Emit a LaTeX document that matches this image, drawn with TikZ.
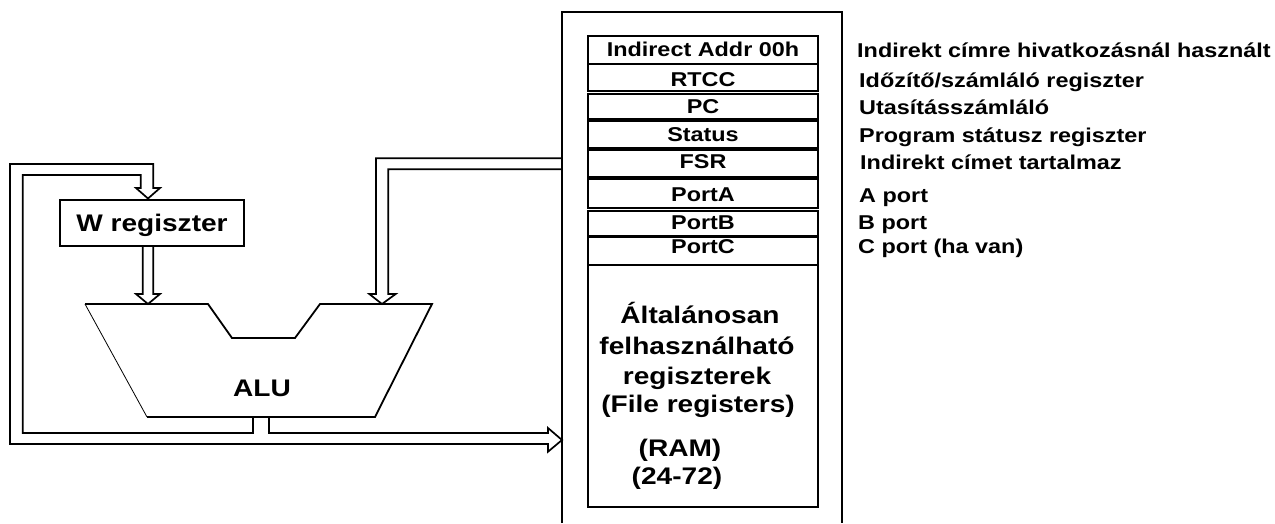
\documentclass[tikz,border=0pt]{standalone}
\usepackage{fontspec}
\setmainfont{Liberation Sans}[FakeStretch=1.17]
\begin{document}
\begin{tikzpicture}[x=1pt,y=-1pt,
  ln/.style={line width=1.8pt, line join=miter},
  bus/.style={line width=1.7pt, line join=miter},
  reg/.style={draw, line width=1.8pt, minimum width=230pt, inner sep=0pt},
  lbl/.style={anchor=base west, inner sep=0pt, font=\fontsize{20}{24}\selectfont\bfseries},
  tbl/.style={anchor=base, inner sep=0pt, font=\fontsize{20}{24}\selectfont\bfseries},
  big/.style={anchor=base, inner sep=0pt, font=\fontsize{24}{28}\selectfont\bfseries}]
\useasboundingbox (0,0) rectangle (1275,523);

% memory outline (open at bottom)
\coordinate (mbl) at (562,523);
\coordinate (mtl) at (562,12);
\coordinate (mtr) at (842,12);
\coordinate (mbr) at (842,523);
\draw[ln] (mbl) -- (mtl) -- (mtr) -- (mbr);

% register rows
\node[reg, minimum height=28pt] (r1) at (703,50) {};
\node[reg, minimum height=27pt] (r2) at (703,77.5) {};
\node[reg, minimum height=25pt] (r3) at (703,106.5) {};
\node[reg, minimum height=27pt] (r4) at (703,134.5) {};
\node[reg, minimum height=27pt] (r5) at (703,163.5) {};
\node[reg, minimum height=29pt] (r6) at (703,193.5) {};
\node[reg, minimum height=25pt] (r7) at (703,223.5) {};
\node[reg, minimum height=28pt] (r8) at (703,251) {};
\node[reg, minimum height=242pt] (ram) at (703,386) {};

\node[tbl] (t1) at (703,56) {Indirect Addr 00h};
\node[tbl] (t2) at (703,86) {RTCC};
\node[tbl] (t3) at (703,113) {PC};
\node[tbl] (t4) at (703,141.5) {Status};
\node[tbl] (t5) at (703,168) {FSR};
\node[tbl] (t6) at (703,201) {PortA};
\node[tbl] (t7) at (703,229) {PortB};
\node[tbl] (t8) at (703,253) {PortC};

\node[big] (g1) at (700,323) {Általánosan};
\node[big] (g2) at (697,354) {felhasználható};
\node[big] (g3) at (697,384) {regiszterek};
\node[big] (g4) at (698,412) {(File registers)};
\node[big] (g5) at (680,456) {(RAM)};
\node[big] (g6) at (677,484) {(24-72)};

% descriptions
\node[lbl] (d1) at (857,57.5) {Indirekt címre hivatkozásnál használt};
\node[lbl] (d2) at (859,87) {Időzítő/számláló regiszter};
\node[lbl] (d3) at (859,114) {Utasításszámláló};
\node[lbl] (d4) at (859,142.5) {Program státusz regiszter};
\node[lbl] (d5) at (860,169) {Indirekt címet tartalmaz};
\node[lbl] (d6) at (859,202) {A port};
\node[lbl] (d7) at (858,229) {B port};
\node[lbl] (d8) at (858,253) {C port (ha van)};

% W register
\node[draw, line width=1.8pt, minimum width=184pt, minimum height=46pt, inner sep=0pt,
      text height=17.2pt, text depth=0pt, font=\fontsize{24}{28}\selectfont\bfseries]
      (w) at (152,223) {W regiszter};

% ALU
\coordinate (a1) at (85,304);
\coordinate (a2) at (208,304);
\coordinate (a3) at (232,338);
\coordinate (a4) at (295,338);
\coordinate (a5) at (320,304);
\coordinate (a6) at (432,304);
\coordinate (a7) at (375,417);
\coordinate (a8) at (147,417);
\draw[ln] (a8) -- (a7) -- (a6) -- (a5) -- (a4) -- (a3) -- (a2) -- (a1);
\draw[line width=0.8pt] (a1) -- (a8);
\node[big] (alu) at (262,396) {ALU};

% W -> ALU
\draw[bus] (w.south -| 142.7,0) -- (142.7,294) -- (136,294) -- (148,304) -- (160,294)
  -- (153.3,294) -- (w.south -| 153.3,0);

% RAM -> ALU
\draw[bus] (mtl |- 0,158.3) -- (376,158.3) -- (376,294) -- (369.3,294) -- (382,304)
  -- (395.7,294) -- (388.3,294) -- (388.3,169.3) -- (mtl |- 0,169.3);

% ALU -> W and ALU -> RAM
\draw[bus] (253,417) -- (253,433) -- (22.7,433) -- (22.7,175) -- (140.7,175) -- (140.7,188)
  -- (136,188) -- (148,198.5) -- (160,188) -- (153.3,188) -- (153.3,164) -- (10,164)
  -- (10,444) -- (548,444) -- (548,451.7) -- (562,440) -- (548,428) -- (548,433)
  -- (269,433) -- (269,417);
\end{tikzpicture}
\end{document}
